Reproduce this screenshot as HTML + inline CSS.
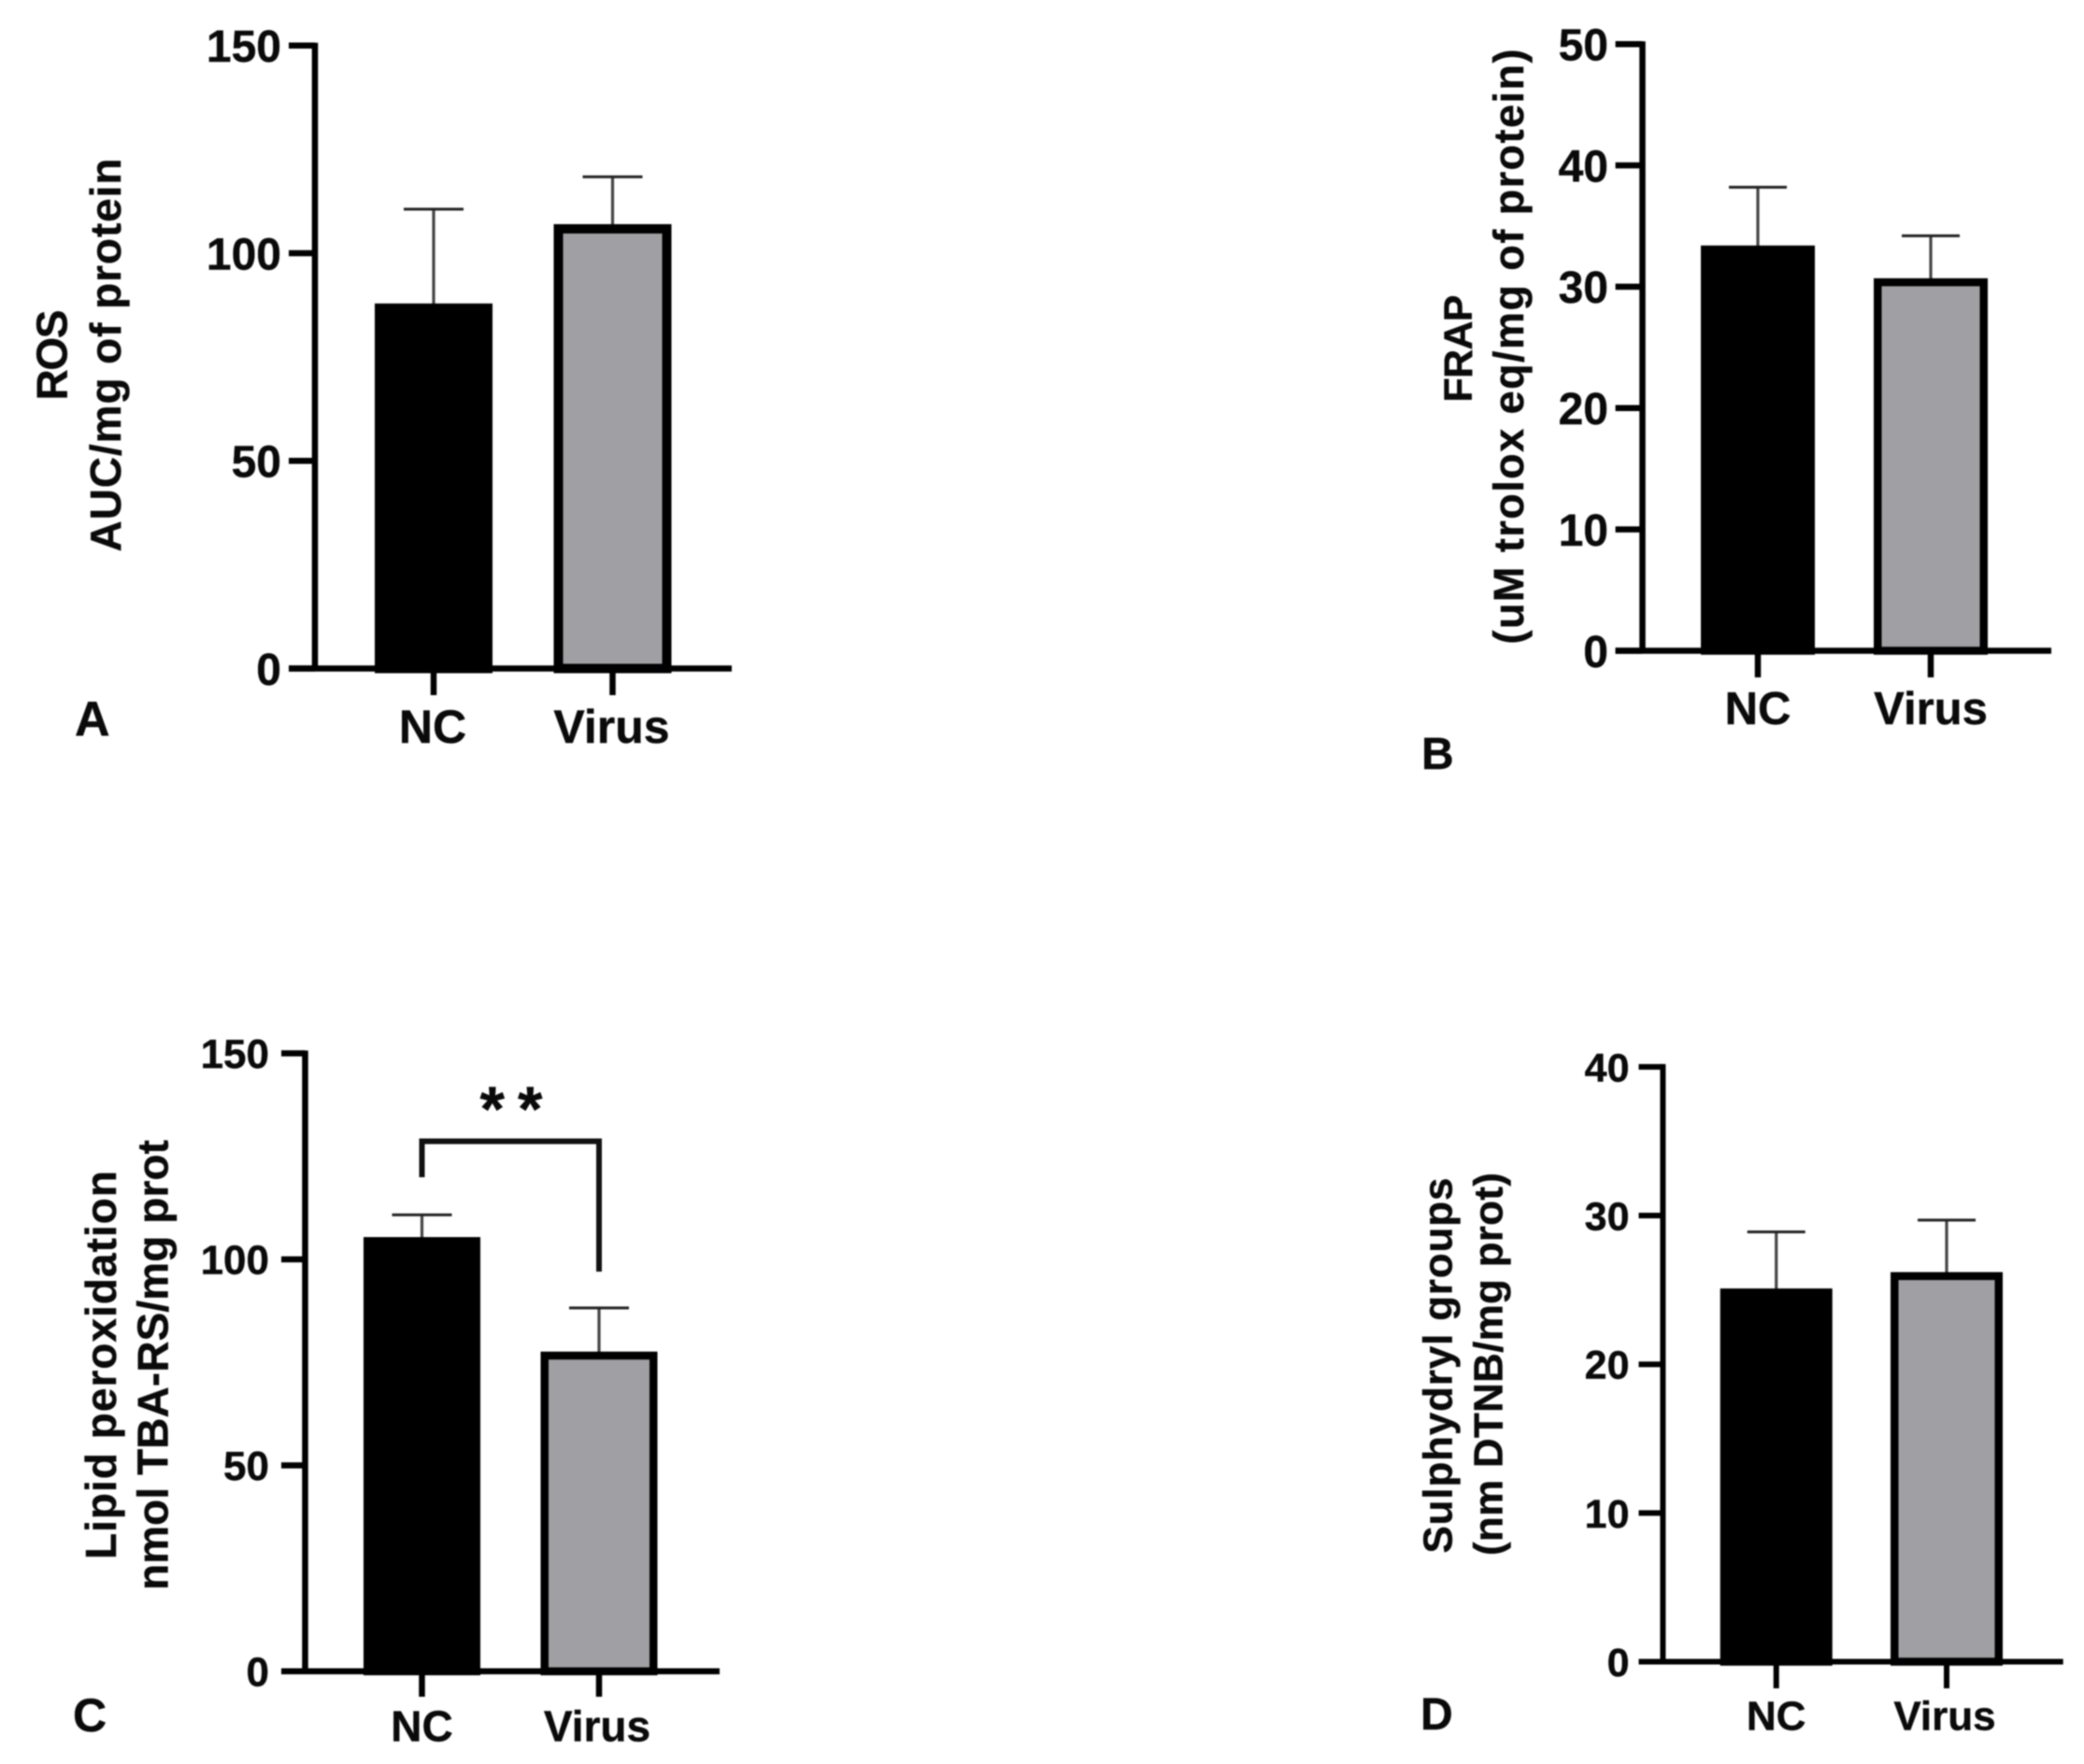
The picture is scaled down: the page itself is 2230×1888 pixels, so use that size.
<!DOCTYPE html>
<html lang="en">
<head>
<meta charset="utf-8">
<title>Oxidative stress bar charts</title>
<style>
html,body{margin:0;padding:0;background:#fff;width:2230px;height:1888px;overflow:hidden}
svg{display:block;filter:blur(0.8px)}
text{font-family:"Liberation Sans",sans-serif;font-weight:700;fill:#0a0a0a;stroke:#0a0a0a;stroke-width:.4px}
</style>
</head>
<body>
<svg id="figure" xmlns="http://www.w3.org/2000/svg" width="2230" height="1888" viewBox="0 0 2230 1888">
  <rect x="0" y="0" width="2230" height="1888" fill="#fff"/>

  <text x="80" y="787" font-size="52">A</text>
  <text x="1521" y="823" font-size="48">B</text>
  <text x="78" y="1853" font-size="50">C</text>
  <text x="1520" y="1851" font-size="48">D</text>

  <text transform="translate(71.5,380) rotate(-90)" text-anchor="middle" font-size="46" textLength="97" lengthAdjust="spacing">ROS</text>
  <text transform="translate(129,380) rotate(-90)" text-anchor="middle" font-size="46" textLength="421" lengthAdjust="spacing">AUC/mg of protein</text>

  <text transform="translate(1575,373) rotate(-90)" text-anchor="middle" font-size="43" textLength="115" lengthAdjust="spacing">FRAP</text>
  <text transform="translate(1630,371) rotate(-90)" text-anchor="middle" font-size="45" textLength="637" lengthAdjust="spacing">(uM trolox eq/mg of protein)</text>

  <text transform="translate(124,1461) rotate(-90)" text-anchor="middle" font-size="46" textLength="416" lengthAdjust="spacing">Lipid peroxidation</text>
  <text transform="translate(179.5,1461) rotate(-90)" text-anchor="middle" font-size="46" textLength="482" lengthAdjust="spacing">nmol TBA-RS/mg prot</text>

  <text transform="translate(1553.5,1461.5) rotate(-90)" text-anchor="middle" font-size="44" textLength="402" lengthAdjust="spacing">Sulphydryl groups</text>
  <text transform="translate(1607.5,1460) rotate(-90)" text-anchor="middle" font-size="44" textLength="410" lengthAdjust="spacing">(nm DTNB/mg prot)</text>

  <g id="panels"></g>

  <path d="M451.5 1260V1221.5H641V1361" fill="none" stroke="#111" stroke-width="6"/>
  <text x="554" y="1210" text-anchor="middle" font-size="68" letter-spacing="14">**</text>
</svg>

<script>
const categories = ['NC', 'Virus'];

const rosMeans = [87.9, 107];
const rosErrors = [22.7, 11.4];
const rosTicks = [0, 50, 100, 150];

const frapMeans = [33.4, 30.7];
const frapErrors = [4.8, 3.5];
const frapTicks = [0, 10, 20, 30, 40, 50];

const lipidMeans = [105.4, 77.6];
const lipidErrors = [5.4, 10.6];
const lipidTicks = [0, 50, 100, 150];

const sulphMeans = [25.1, 26.2];
const sulphErrors = [3.8, 3.5];
const sulphTicks = [0, 10, 20, 30, 40];

const NS = 'http://www.w3.org/2000/svg';
const root = document.getElementById('panels');

function make(tag, attrs, parent) {
  const el = document.createElementNS(NS, tag);
  for (const k in attrs) el.setAttribute(k, attrs[k]);
  parent.appendChild(el);
  return el;
}

function drawPanel(p) {
  const g = make('g', {}, root);
  
  

  const yMax = p.ticks[p.ticks.length - 1];
  const yScale = v => p.y0 - (v / yMax) * (p.y0 - p.yTop);
  const xScale = i => p.cx0 + i * p.step;

  // error bars (beneath bars)
  p.means.forEach((m, i) => {
    const cx = xScale(i);
    const top = yScale(m + p.errors[i]);
    const stem = make('line', {x1: cx, x2: cx, y1: yScale(m) + 2, y2: top, stroke: '#444', 'stroke-width': 3.2}, g);
    
    
    const cap = make('line', {x1: cx - p.capW / 2, x2: cx + p.capW / 2, y1: top, y2: top, stroke: '#222', 'stroke-width': 3}, g);
    
    
  });

  // bars
  p.means.forEach((m, i) => {
    const cx = xScale(i);
    const top = yScale(m);
    const inset = p.border / 2;
    const bar = make('rect', {
      x: cx - p.barW / 2 + inset,
      y: top + inset,
      width: p.barW - p.border,
      height: Math.max(0, p.y0 - top - inset),
      fill: i === 0 ? '#000' : '#a09fa4',
      stroke: '#000',
      'stroke-width': p.border
    }, g);
    
    
  });

  // y axis
  const yAxis = make('line', {x1: p.axisX, x2: p.axisX, y1: p.yTop - 3, y2: p.y0 + 3, stroke: '#000', 'stroke-width': p.axisW}, g);
  
  

  // x axis
  const xAxis = make('line', {x1: p.tickLeft, x2: p.xRight, y1: p.y0, y2: p.y0, stroke: '#000', 'stroke-width': p.axisW}, g);
  
  

  // y ticks + labels
  p.ticks.forEach(t => {
    const y = yScale(t);
    const tick = make('line', {x1: p.tickLeft, x2: p.axisX, y1: y, y2: y, stroke: '#000', 'stroke-width': p.axisW}, g);
    
    
    const label = make('text', {x: p.labelRight, y: y + p.tickFont * 0.36, 'text-anchor': 'end', 'font-size': p.tickFont}, g);
    
    
    label.textContent = String(t);
  });

  // x ticks + labels
  categories.forEach((c, i) => {
    const cx = xScale(i);
    const tick = make('line', {x1: cx, x2: cx, y1: p.y0, y2: p.tickBottom, stroke: '#000', 'stroke-width': p.axisW}, g);
    
    
    const label = make('text', {x: cx + p.labelDx[i], y: p.xLabelY, 'text-anchor': 'middle', 'font-size': p.xFont}, g);
    
    
    label.textContent = c;
  });
}

drawPanel({means: rosMeans, errors: rosErrors, ticks: rosTicks,
  axisX: 337, yTop: 48.8, y0: 715.5, tickLeft: 309, xRight: 783,
  cx0: 464, step: 191.5, barW: 126, capW: 64, border: 10, axisW: 6.5, tickBottom: 744,
  labelRight: 301, tickFont: 48, xLabelY: 795, xFont: 50, labelDx: [-1, -1]});

drawPanel({means: frapMeans, errors: frapErrors, ticks: frapTicks,
  axisX: 1757.5, yTop: 47.2, y0: 696.5, tickLeft: 1728.6, xRight: 2195,
  cx0: 1881, step: 185, barW: 122, capW: 62, border: 8.5, axisW: 6.5, tickBottom: 725,
  labelRight: 1721, tickFont: 48, xLabelY: 775, xFont: 49, labelDx: [0, 0]});

drawPanel({means: lipidMeans, errors: lipidErrors, ticks: lipidTicks,
  axisX: 326.5, yTop: 1127.4, y0: 1788.8, tickLeft: 301, xRight: 770,
  cx0: 451.5, step: 189.5, barW: 125, capW: 64, border: 8.5, axisW: 6.5, tickBottom: 1816,
  labelRight: 288, tickFont: 44, xLabelY: 1863.5, xFont: 46, labelDx: [0, -2]});

drawPanel({means: sulphMeans, errors: sulphErrors, ticks: sulphTicks,
  axisX: 1779.4, yTop: 1141.9, y0: 1778.5, tickLeft: 1753.5, xRight: 2207.7,
  cx0: 1900.7, step: 182.3, barW: 120, capW: 62, border: 8.5, axisW: 6, tickBottom: 1807,
  labelRight: 1743.5, tickFont: 43, xLabelY: 1851.5, xFont: 44, labelDx: [0, -2]});
</script>
</body>
</html>
